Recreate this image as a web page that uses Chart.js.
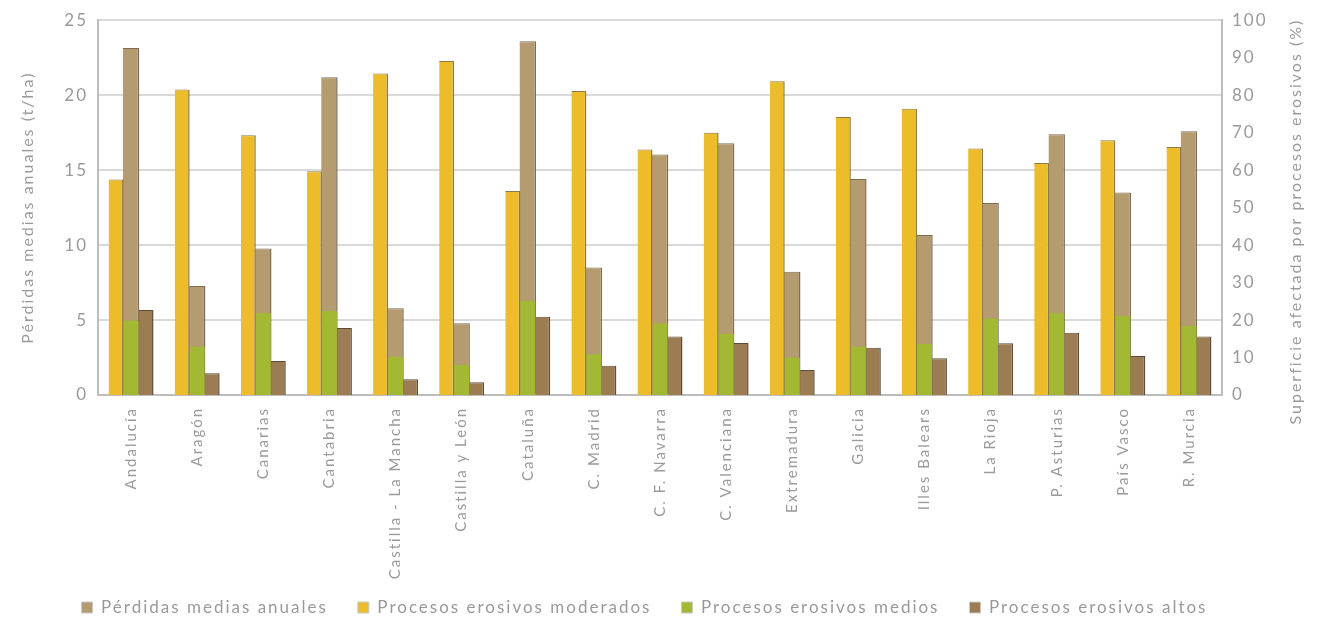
<!DOCTYPE html>
<html>
<head>
<meta charset="utf-8">
<script src="https://cdn.jsdelivr.net/npm/chart.js@4"></script>
<style>
  html, body { margin: 0; padding: 0; background: #fff; }
  #wrap { width: 1321px; height: 620px; }
</style>
</head>
<body>
<div id="wrap"><canvas id="erosionChart"></canvas></div>
<script>
// Regiones
const regions = ['Andalucía', 'Aragón', 'Canarias', 'Cantabria', 'Castilla - La Mancha', 'Castilla y León',
  'Cataluña', 'C. Madrid', 'C. F. Navarra', 'C. Valenciana', 'Extremadura', 'Galicia', 'Illes Balears',
  'La Rioja', 'P. Asturias', 'País Vasco', 'R. Murcia'];

// t/ha (eje izquierdo)
const perdidas = [23.15, 7.27, 9.78, 21.2, 5.78, 4.78, 23.6, 8.51, 16.04, 16.8, 8.22, 14.4, 10.67, 12.8, 17.4, 13.5, 17.6];
// % superficie (eje derecho)
const moderados = [57.5, 81.5, 69.3, 59.7, 85.8, 89.1, 54.4, 81.1, 65.5, 70.0, 83.7, 74.2, 76.4, 65.8, 61.9, 68.0, 66.2];
const medios = [19.8, 12.9, 21.8, 22.4, 10.2, 8.0, 25.1, 10.9, 19.1, 16.3, 10.0, 12.9, 13.6, 20.4, 21.8, 21.1, 18.4];
const altos = [22.7, 5.8, 9.1, 17.9, 4.2, 3.4, 20.9, 7.8, 15.6, 13.9, 6.7, 12.6, 9.8, 13.8, 16.6, 10.4, 15.6];

const leftTicks = [0, 5, 10, 15, 20, 25];
const rightTicks = [0, 10, 20, 30, 40, 50, 60, 70, 80, 90, 100];

const textGrey = '#9a9a9a';
const fontName = 'Lato';
const edge = { top: 1, right: 1.5, left: 0, bottom: 0 };

// wide lettering like the original, plus a fixed legend block
const spacing = {
  id: 'spacing',
  beforeLayout(chart) {
    chart.ctx.letterSpacing = '2px';
    const lg = chart.legend;
    if (lg && !lg._fixed) {
      const fit = lg.fit.bind(lg);
      lg.fit = function () { fit(); this.height = 35; };
      lg._fixed = true;
    }
  },
  afterLayout(chart) {
    const lg = chart.legend;
    lg.top -= 16;
    lg.bottom = chart.height;
    lg.height = lg.bottom - lg.top;
    lg.left -= 25; lg.right -= 25;
  },
  beforeDraw(chart) { chart.ctx.letterSpacing = '2px'; }
};

// right axis title reads bottom-to-top like the left one
const rightTitle = {
  id: 'rightTitle',
  afterDraw(chart) {
    const c = chart.ctx;
    const area = chart.chartArea;
    c.save();
    c.translate(1296, (area.top + area.bottom) / 2 + 14);
    c.rotate(-Math.PI / 2);
    c.fillStyle = textGrey;
    c.font = '16px ' + fontName;
    c.textAlign = 'center';
    c.textBaseline = 'middle';
    c.fillText('Superficie afectada por procesos erosivos (%)', 0, 0);
    c.restore();
  }
};

const ctx = document.getElementById('erosionChart').getContext('2d');
const erosionChart = new Chart(ctx, {
  type: 'bar',
  data: {
    labels: regions,
    datasets: [
      { label: 'Pérdidas medias anuales', data: perdidas, yAxisID: 'y', stack: 'b', order: 2,
        backgroundColor: '#b49b70', borderColor: '#7d6d55', borderWidth: edge, barPercentage: 1.1 },
      { label: 'Procesos erosivos moderados', data: moderados, yAxisID: 'y1', stack: 'a', order: 0,
        backgroundColor: '#ecbc2b', borderColor: '#8a7a45', borderWidth: edge },
      { label: 'Procesos erosivos medios', data: medios, yAxisID: 'y1', stack: 'b', order: 1,
        backgroundColor: '#a3b833', borderWidth: 0 },
      { label: 'Procesos erosivos altos', data: altos, yAxisID: 'y1', stack: 'c', order: 3,
        backgroundColor: '#9b7c53', borderColor: '#5e4e38', borderWidth: edge }
    ]
  },
  options: {
    responsive: true,
    maintainAspectRatio: false,
    animation: false,
    layout: { padding: { top: 20, left: 18, right: 0, bottom: 0 } },
    datasets: { bar: { categoryPercentage: 0.68, barPercentage: 1.0 } },
    plugins: {
      tooltip: { enabled: false },
      legend: {
        position: 'bottom',
        labels: {
          color: textGrey, font: { family: fontName, size: 17 },
          boxWidth: 11, boxHeight: 11, padding: 30,
          generateLabels(chart) {
            const items = Chart.defaults.plugins.legend.labels.generateLabels(chart);
            items.sort((a, b) => a.datasetIndex - b.datasetIndex);
            items.forEach(it => { it.lineWidth = 1; it.strokeStyle = '#c9c9c9'; });
            return items;
          }
        }
      }
    },
    scales: {
      x: {
        grid: { display: false },
        border: { display: true, color: '#bdbdbd', width: 2 },
        ticks: { color: textGrey, font: { family: fontName, size: 15 }, minRotation: 90, maxRotation: 90, padding: 4 },
        afterFit(s) { s.height = 190; }
      },
      y: {
        position: 'left', min: 0, max: 25, stacked: false,
        afterBuildTicks(s) { s.ticks = leftTicks.map(v => ({ value: v })); },
        grid: { color: '#d9d9d9', lineWidth: 2, drawTicks: false },
        border: { display: true, color: '#bdbdbd', width: 2 },
        ticks: { color: textGrey, font: { family: fontName, size: 17 }, padding: 10 },
        title: { display: true, text: 'Pérdidas medias anuales (t/ha)', color: textGrey,
          font: { family: fontName, size: 16 }, padding: { top: 0, bottom: 4 } },
        afterFit(s) { s.width = 80; }
      },
      y1: {
        position: 'right', min: 0, max: 100, stacked: false,
        afterBuildTicks(s) { s.ticks = rightTicks.map(v => ({ value: v })); },
        grid: { display: false, drawTicks: false },
        border: { display: true, color: '#bdbdbd', width: 2 },
        ticks: { color: textGrey, font: { family: fontName, size: 17 }, padding: 10 },
        afterFit(s) { s.width = 99; }
      }
    }
  },
  plugins: [spacing, rightTitle]
});
</script>
</body>
</html>
